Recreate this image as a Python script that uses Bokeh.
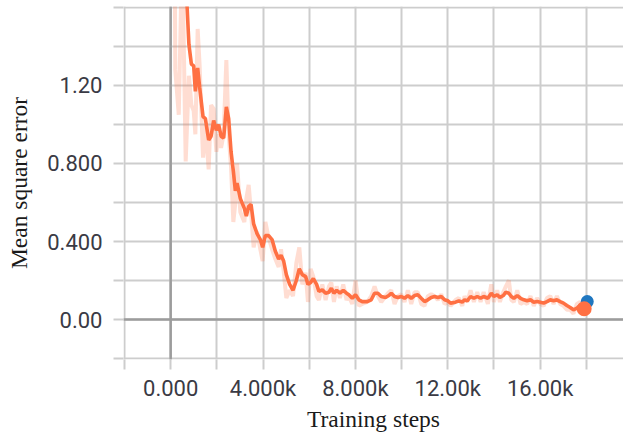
from bokeh.plotting import figure
from bokeh.models import Range1d, FixedTicker, Span, ColumnDataSource
from bokeh.embed import file_html
from bokeh.resources import INLINE

# Training curve: mean square error against training step
steps = [50, 200, 350, 500, 650, 790, 896, 996, 1069, 1169, 1255, 1402, 1502, 1645,
         1749, 1861, 1978, 2078, 2182, 2294, 2411, 2511, 2615, 2714, 2801, 2874, 3017,
         3190, 3277, 3377, 3481, 3593, 3740, 3883, 3983, 4100, 4243, 4390, 4533, 4676,
         4779, 4892, 5009, 5152, 5299, 5442, 5571, 5701, 5844, 5944, 6060, 6177, 6320,
         6420, 6567, 6710, 6853, 6957, 7070, 7187, 7330, 7473, 7616, 7716, 7863, 8006,
         8149, 8296, 8513, 8686, 8829, 8972, 9119, 9305, 9448, 9552, 9695, 9838, 9985,
         10128, 10271, 10418, 10561, 10704, 10851, 10994, 11137, 11284, 11427, 11570,
         11718, 11861, 12003, 12121, 12337, 12480, 12627, 12727, 12844, 12987, 13130,
         13277, 13420, 13554, 13737, 13884, 13996, 14143, 14256, 14403, 14516, 14646,
         14750, 14862, 15009, 15152, 15295, 15438, 15581, 15724, 15867, 16010, 16153,
         16296, 16439, 16582, 16725, 16868, 17011, 17158, 17301, 17444, 17591, 17734,
         17907]

mse_smoothed = [4.2, 3.4, 2.7, 2.15, 1.75, 1.41, 1.31, 1.30, 1.17, 1.29, 1.19, 1.04,
                1.03, 0.92, 0.94, 1.02, 0.97, 1.00, 0.94, 0.93, 1.09, 1.03, 0.86, 0.76,
                0.66, 0.70, 0.62, 0.57, 0.53, 0.58, 0.59, 0.49, 0.44, 0.41, 0.37, 0.43,
                0.43, 0.41, 0.35, 0.31, 0.33, 0.30, 0.23, 0.18, 0.15, 0.20, 0.26, 0.23,
                0.22, 0.18, 0.19, 0.21, 0.18, 0.144, 0.152, 0.135, 0.14, 0.16, 0.135,
                0.15, 0.135, 0.15, 0.135, 0.127, 0.109, 0.127, 0.101, 0.092, 0.092,
                0.101, 0.135, 0.135, 0.118, 0.113, 0.123, 0.135, 0.118, 0.113, 0.118,
                0.109, 0.123, 0.109, 0.123, 0.127, 0.109, 0.092, 0.101, 0.113, 0.118,
                0.113, 0.118, 0.101, 0.096, 0.084, 0.089, 0.096, 0.089, 0.101, 0.096,
                0.118, 0.109, 0.118, 0.109, 0.118, 0.109, 0.135, 0.118, 0.127, 0.113,
                0.123, 0.140, 0.135, 0.118, 0.109, 0.123, 0.109, 0.101, 0.096, 0.101,
                0.089, 0.092, 0.089, 0.084, 0.092, 0.101, 0.096, 0.101, 0.092, 0.084,
                0.072, 0.062, 0.050, 0.058, 0.072, 0.055]

mse_raw = [4.8, 1.28, 1.05, 1.9, 0.81, 1.25, 1.10, 1.07, 0.95, 1.49, 1.30, 0.83,
           1.00, 0.77, 1.10, 1.08, 0.86, 0.95, 0.88, 0.95, 1.33, 0.95, 0.78, 0.50,
           0.60, 0.80, 0.55, 0.50, 0.62, 0.69, 0.55, 0.37, 0.45, 0.36, 0.30, 0.50,
           0.42, 0.36, 0.31, 0.27, 0.36, 0.25, 0.11, 0.15, 0.12, 0.29, 0.37, 0.18,
           0.24, 0.09, 0.26, 0.22, 0.12, 0.10, 0.18, 0.10, 0.17, 0.19, 0.09, 0.17,
           0.11, 0.18, 0.10, 0.12, 0.08, 0.20, 0.07, 0.08, 0.09, 0.12, 0.17, 0.12,
           0.09, 0.12, 0.14, 0.15, 0.08, 0.12, 0.13, 0.09, 0.15, 0.08, 0.14, 0.14,
           0.08, 0.07, 0.12, 0.13, 0.12, 0.10, 0.13, 0.08, 0.09, 0.07, 0.10, 0.11,
           0.07, 0.12, 0.09, 0.15, 0.09, 0.14, 0.09, 0.14, 0.08, 0.18, 0.09, 0.15,
           0.09, 0.14, 0.17, 0.20, 0.10, 0.09, 0.15, 0.08, 0.09, 0.08, 0.12, 0.07,
           0.11, 0.08, 0.07, 0.11, 0.12, 0.08, 0.12, 0.08, 0.07, 0.05, 0.05, 0.03,
           0.08, 0.09, 0.03]

# Latest value of the companion run
last_step_blue = 18040
last_mse_blue = 0.092

x_major = [0, 4000, 8000, 12000, 16000]
x_major_labels = ["0.000", "4.000k", "8.000k", "12.00k", "16.00k"]
x_minor = [-2000, 2000, 6000, 10000, 14000, 18000]
y_major = [0.0, 0.4, 0.8, 1.2]
y_major_labels = ["0.00", "0.400", "0.800", "1.20"]
y_minor = [-0.2, 0.2, 0.6, 1.0, 1.4, 1.6]

ORANGE = "#ff7043"
BLUE = "#1f77c0"
GRID = "#cdcdcd"
ZERO = "#9c9c9c"
TICK_TEXT = "#3a3a44"

src = ColumnDataSource(dict(step=steps, smooth=mse_smoothed, raw=mse_raw))

p = figure(width=623, height=434,
           x_range=Range1d(-2043, 19610), y_range=Range1d(-0.205, 1.605),
           output_backend="svg", toolbar_location=None,
           min_border_left=123, min_border_right=0,
           min_border_top=6, min_border_bottom=75)
p.outline_line_color = None
p.background_fill_color = "white"
p.border_fill_color = "white"

p.xaxis.ticker = FixedTicker(ticks=x_major, minor_ticks=x_minor)
p.yaxis.ticker = FixedTicker(ticks=y_major, minor_ticks=y_minor)
p.xaxis.major_label_overrides = dict(zip(x_major, x_major_labels))
p.yaxis.major_label_overrides = dict(zip(y_major, y_major_labels))

for ax in (p.xaxis[0], p.yaxis[0]):
    ax.axis_line_color = None
    ax.major_tick_in = 0
    ax.minor_tick_in = 0
    ax.major_tick_out = 10
    ax.minor_tick_out = 10
    ax.major_tick_line_color = GRID
    ax.minor_tick_line_color = GRID
    ax.major_tick_line_width = 2
    ax.minor_tick_line_width = 2
    ax.major_label_text_font = "Roboto"
    ax.major_label_text_font_size = "22px"
    ax.major_label_text_color = TICK_TEXT
    ax.axis_label_text_font = "Liberation Serif"
    ax.axis_label_text_font_size = "23.5px"
    ax.axis_label_text_font_style = "normal"
    ax.axis_label_text_color = "#1a1a1a"

p.xaxis.axis_label = "Training steps"
p.yaxis.axis_label = "Mean square error"
p.xaxis.major_label_standoff = 6
p.yaxis.major_label_standoff = 11
p.xaxis.axis_label_standoff = 2
p.yaxis.axis_label_standoff = 12

for g in (p.xgrid[0], p.ygrid[0]):
    g.grid_line_color = GRID
    g.grid_line_width = 2
    g.minor_grid_line_color = GRID
    g.minor_grid_line_width = 2

p.add_layout(Span(location=0, dimension="width", line_color=ZERO, line_width=2.5))
p.add_layout(Span(location=0, dimension="height", line_color=ZERO, line_width=2.5))

# unsmoothed values as a faint trace, smoothed curve on top
p.line("step", "raw", source=src, line_color=ORANGE, line_alpha=0.24, line_width=4)
p.line("step", "smooth", source=src, line_color=ORANGE, line_width=3.6)

p.scatter([last_step_blue], [last_mse_blue], size=13, fill_color=BLUE, line_color=None)
p.scatter([steps[-1]], [mse_smoothed[-1]], size=15, fill_color=ORANGE, line_color=None)

open("out.html", "w").write(file_html(p, INLINE))
